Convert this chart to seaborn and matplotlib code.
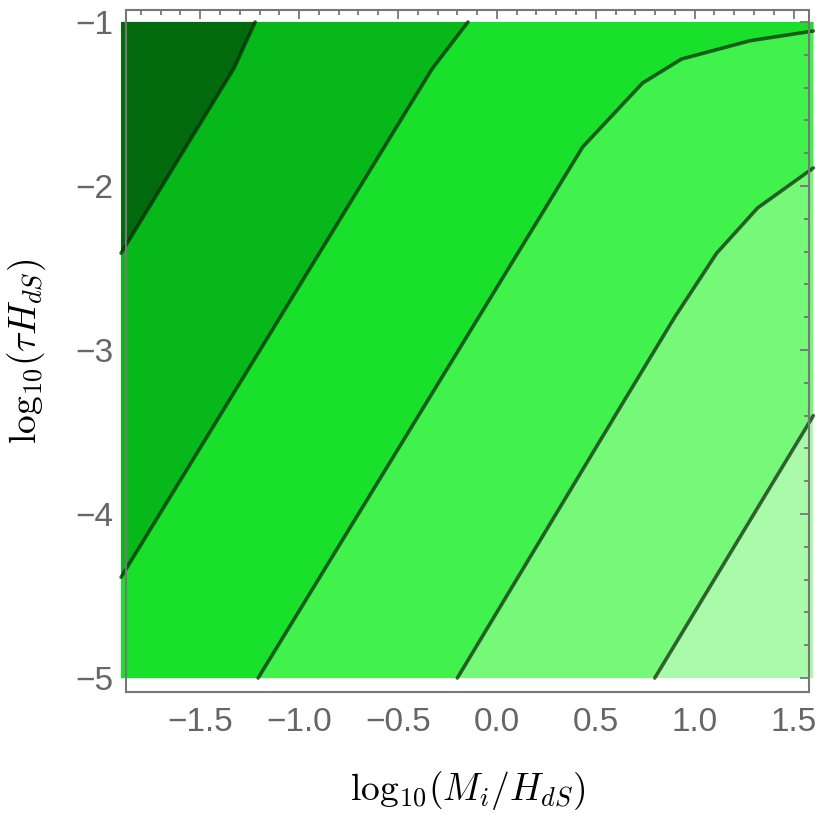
import numpy as np
import matplotlib
matplotlib.use("Agg")
import matplotlib.pyplot as plt
import pandas as pd
import seaborn as sns

# data range of the contour fill
x_range = [-1.9, 1.6]
y_range = [-5.0, -1.0]

# contour boundaries (dark -> light)
line1_x = [-1.9, -1.328, -1.222]
line1_y = [-2.41, -1.28, -1.0]
line2_x = [-1.9, -0.328, -0.146]
line2_y = [-4.385, -1.287, -1.0]
line3_x = [-1.207, 0.434, 0.737, 0.934, 1.278, 1.6]
line3_y = [-5.0, -1.762, -1.372, -1.226, -1.115, -1.055]
line4_x = [-0.2, 0.621, 0.899, 1.111, 1.318, 1.6]
line4_y = [-5.0, -3.354, -2.80, -2.41, -2.134, -1.89]
line5_x = [0.798, 1.6]
line5_y = [-5.0, -3.40]

# region colours, darkest (top-left) to lightest (bottom-right)
colors = ["#006a0c", "#07b81a", "#18e02b", "#41f24c", "#76f878", "#a9faa9"]

sns.set_style("white")
plt.rcParams["font.family"] = ["Liberation Sans", "DejaVu Sans"]
plt.rcParams["mathtext.fontset"] = "cm"

fig = plt.figure(figsize=(8.22, 8.26), dpi=100)
ax = fig.add_axes([0.1533, 0.1622, 0.8309, 0.8257])
ax.set_axisbelow(False)

# background = lightest level
ax.fill([x_range[0], x_range[1], x_range[1], x_range[0]],
        [y_range[0], y_range[0], y_range[1], y_range[1]],
        color=colors[5], lw=0, clip_on=False, zorder=1)

lines = [(line1_x, line1_y), (line2_x, line2_y), (line3_x, line3_y),
         (line4_x, line4_y), (line5_x, line5_y)]

# fill the part above/left of each boundary, light to dark
corner_x = [x_range[1], x_range[0], x_range[0]]
corner_y = [y_range[1], y_range[1], y_range[0]]
for i in range(4, -1, -1):
    lx, ly = lines[i]
    ax.fill(list(lx) + corner_x, list(ly) + corner_y,
            color=colors[i], lw=0, clip_on=False, zorder=1 + (5 - i) * 0.01)

for i, (lx, ly) in enumerate(lines):
    df = pd.DataFrame({"x": lx, "y": ly})
    sns.lineplot(data=df, x="x", y="y", sort=False, estimator=None, ax=ax,
                 color="#0a280a", alpha=0.72, lw=2.6, clip_on=False, zorder=1.2)

ax.set_xlim(-1.875, 1.578)
ax.set_ylim(-5.085, -0.927)

ax.set_xticks(np.arange(-1.5, 1.51, 0.5))
ax.set_xticks(np.arange(-1.8, 1.56, 0.1), minor=True)
ax.set_yticks(np.arange(-5, -0.99, 1))
ax.set_yticks(np.arange(-5, -0.99, 0.2), minor=True)
ax.set_xticklabels(["\u22121.5", "\u22121.0", "\u22120.5", "0.0", "0.5", "1.0", "1.5"])
ax.set_yticklabels(["\u22125", "\u22124", "\u22123", "\u22122", "\u22121"])

ax.tick_params(which="both", direction="in", top=True, right=True,
               color="#777777", width=1.3, labelcolor="#666666", labelsize=24)
ax.tick_params(which="major", length=6.5)
ax.tick_params(which="minor", length=3.6)
ax.tick_params(axis="x", which="major", pad=11)
ax.tick_params(axis="y", which="major", pad=9)

for s in ax.spines.values():
    s.set_color("#777777")
    s.set_linewidth(1.5)
    s.set_zorder(5)

ax.set_xlabel(r"$\mathrm{log}_{10}(M_i/H_{dS})$", fontsize=27, color="black", labelpad=22)
ax.set_ylabel(r"$\mathrm{log}_{10}(\tau H_{dS})$", fontsize=27, color="black", labelpad=20)

fig.savefig("out.png", dpi=100)
